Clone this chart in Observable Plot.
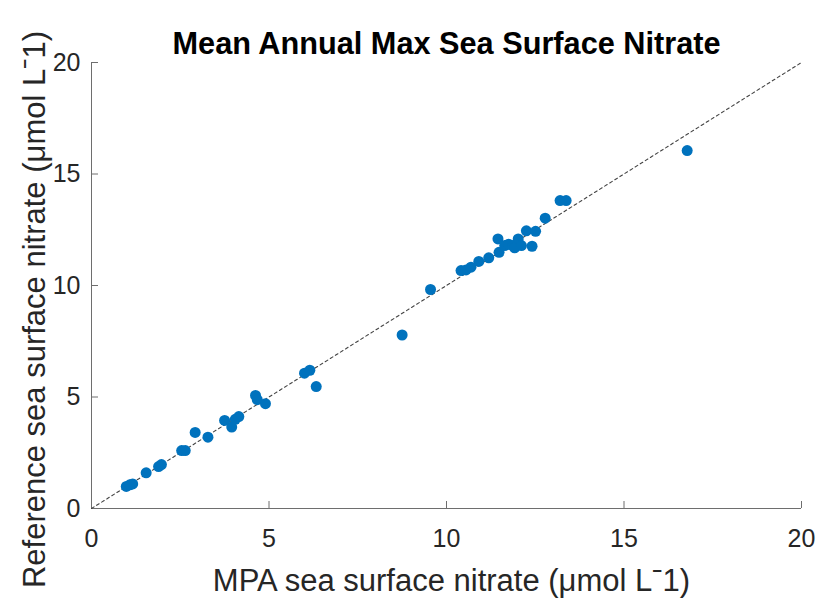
<!DOCTYPE html>
<html><head><meta charset="utf-8">
<script src="https://cdn.jsdelivr.net/npm/d3@7"></script>
<script src="https://cdn.jsdelivr.net/npm/@observablehq/plot@0.6"></script>
<style>body{margin:0;background:#fff}</style>
</head><body><div id="chart"></div>
<script>
const mpa = [0.98, 1.08, 1.16, 1.54, 1.89, 1.97, 2.54, 2.64, 2.92, 3.28, 3.75, 3.95, 4.05, 4.15, 4.62, 4.67, 4.9,
  6.0, 6.15, 6.33, 8.75, 9.55,
  10.41, 10.55, 10.69, 10.91, 11.19, 11.45, 11.48, 11.64, 11.75, 11.87, 11.92, 12.02, 12.11, 12.25, 12.51, 12.41, 12.78, 13.2, 13.37,
  16.78];
const ref = [0.99, 1.06, 1.1, 1.6, 1.88, 1.97, 2.6, 2.6, 3.41, 3.2, 3.95, 3.65, 4.0, 4.12, 5.07, 4.88, 4.7,
  6.07, 6.2, 5.47, 7.78, 9.82,
  10.67, 10.7, 10.82, 11.08, 11.24, 12.09, 11.49, 11.79, 11.85, 11.79, 11.69, 12.09, 11.79, 12.45, 12.43, 11.76, 13.02, 13.81, 13.81,
  16.05];
const ticks = [0, 5, 10, 15, 20];
const title = "Mean Annual Max Sea Surface Nitrate";
const xLabel = "MPA sea surface nitrate (μmol Lˉ1)";
const yLabel = "Reference sea surface nitrate (μmol Lˉ1)";

const points = mpa.map((x, i) => ({x, y: ref[i]}));
const diag = [{x: 0, y: 0}, {x: 20, y: 20}];
const font = "'Liberation Sans', Arial, Helvetica, sans-serif";
const axisGray = "#6e6e6e";
const textGray = "#262626";

const chart = Plot.plot({
  width: 821, height: 602,
  marginLeft: 91, marginRight: 20, marginTop: 62, marginBottom: 94,
  style: {fontFamily: font, background: "#fff", overflow: "visible"},
  x: {domain: [0, 20]},
  y: {domain: [0, 20]},
  marks: [
    Plot.ruleY([0], {stroke: axisGray, strokeWidth: 1}),
    Plot.ruleX([0], {stroke: axisGray, strokeWidth: 1}),
    Plot.axisX(ticks, {tickSize: -7, tickPadding: 28, fontSize: 25, fill: textGray, stroke: axisGray, label: null}),
    Plot.axisY(ticks, {tickSize: -7, tickPadding: 18, fontSize: 25, fill: textGray, stroke: axisGray, label: null}),
    Plot.line(diag, {x: "x", y: "y", stroke: "#444", strokeWidth: 1.1, strokeDasharray: "3,3"}),
    Plot.dot(points, {x: "x", y: "y", r: 5.5, fill: "#0072BD", stroke: null}),
    Plot.text([title], {text: d => d, frameAnchor: "top", lineAnchor: "bottom", dy: -9, fontSize: 30.7, fontWeight: "bold", fill: "#000"}),
    Plot.text([xLabel], {text: d => d, frameAnchor: "bottom", textAnchor: "middle", lineAnchor: "bottom", dy: 82, dx: 5, fontSize: 31, fill: textGray}),
    Plot.text([yLabel], {text: d => d, frameAnchor: "left", textAnchor: "middle", lineAnchor: "bottom", rotate: -90, dx: -47, dy: 24, fontSize: 31, fill: textGray})
  ]
});
document.getElementById("chart").appendChild(chart);
</script>
</body></html>
